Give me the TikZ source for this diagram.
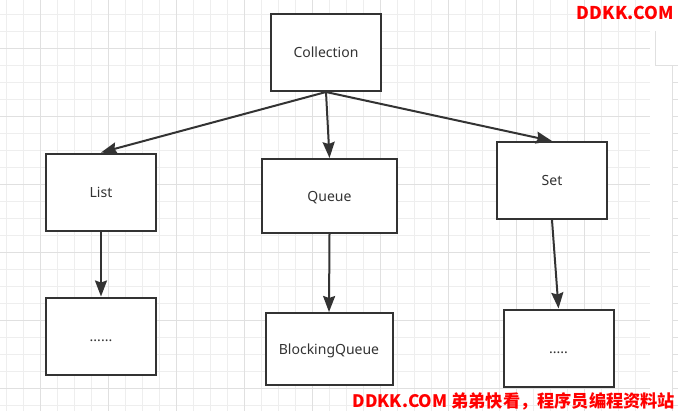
\documentclass[tikz,border=0pt]{standalone}
\usepackage{fontspec}
\setmainfont{Noto Sans}
\newfontfamily\cjk{Noto Sans CJK SC}
\usetikzlibrary{arrows.meta}
\definecolor{boxgray}{HTML}{333333}
\definecolor{gridminor}{HTML}{EEEEEE}
\definecolor{gridmajor}{HTML}{E0E0E0}

\begin{document}
\begin{tikzpicture}[x=0.75pt, y=-0.75pt,
        >={Stealth[length=12pt, width=9pt, inset=1.5pt]},
        every node/.append style={draw=boxgray, line width=1.5pt, fill=white, inner sep=0pt,
            text=boxgray, font=\fontsize{10.5pt}{12pt}\selectfont, text height=7.6pt, text depth=0pt,
            minimum width=82.5pt, minimum height=57.75pt}]
        \useasboundingbox [fill=white] (0,0) rectangle (678,411);

        % background grid
        \foreach \x in {6,23,...,650} \draw [gridminor, line width=0.75pt] (\x,0) -- (\x,411);
        \foreach \y in {14,31,...,411} \draw [gridminor, line width=0.75pt] (0,\y) -- (650,\y);
        \foreach \x in {40,108,...,650} \draw [gridmajor, line width=0.75pt] (\x,0) -- (\x,411);
        \foreach \y in {48,116,...,411} \draw [gridmajor, line width=0.75pt] (0,\y) -- (650,\y);
        \foreach \y in {82,99,...,411} \draw [gridmajor, line width=0.75pt] (672,\y) -- (678,\y);
        \draw [gridmajor, line width=0.75pt] (655,31) -- (655,65) -- (678,65);
        \draw [gridmajor, line width=0.75pt] (672,65) -- (672,411);

        \node (C) at (326,52.5) {Collection};
        \node (L) at (101,192) {List};
        \node [minimum width=101.25pt, minimum height=55.5pt] (Q) at (329.5,196) {Queue};
        \node (S) at (552,180.5) {Set};
        \node (LM) at (101,336) {......};
        \node [minimum width=95.25pt, minimum height=54pt] (BQ) at (329,349) {BlockingQueue};
        \node (SM) at (558.5,348) {.....};

        \node [draw=none, fill=none, text=red, anchor=east, minimum width=0pt, minimum height=0pt,
            text height=9.75pt, font=\cjk\bfseries\fontsize{13.2pt}{14pt}\selectfont] (W1) at (675,13) {DDKK.COM};
        \node [draw=none, fill=none, text=red, anchor=east, minimum width=0pt, minimum height=0pt,
            text height=9.75pt, font=\cjk\bfseries\fontsize{12.9pt}{14pt}\selectfont] (W2) at (676,401) {DDKK.COM 弟弟快看，程序员编程资料站};

        \draw [->, boxgray, line width=1.5pt] (C.south) -- (L.north);
        \draw [->, boxgray, line width=1.5pt] (C.south) -- (Q.north);
        \draw [->, boxgray, line width=1.5pt] (C.south) -- (S.north);
        \draw [->, boxgray, line width=1.5pt] (L.south) -- (LM.north);
        \draw [->, boxgray, line width=1.5pt] (Q.south) -- (BQ.north);
        \draw [->, boxgray, line width=1.5pt] (S.south) -- (SM.north);
    \end{tikzpicture}
\end{document}
